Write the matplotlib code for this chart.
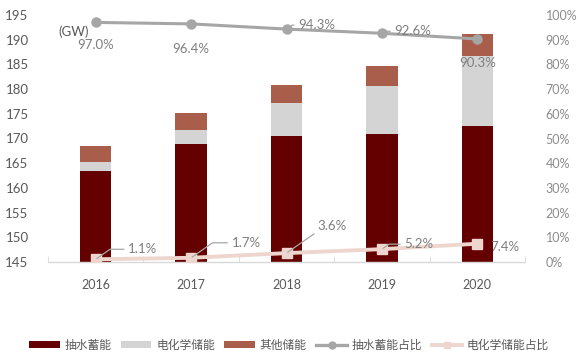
import matplotlib
matplotlib.use("Agg")
import matplotlib.pyplot as plt
import numpy as np
from matplotlib.patches import Patch
from matplotlib.lines import Line2D

plt.rcParams['font.family'] = ['Lato', 'Noto Sans CJK SC', 'DejaVu Sans']

years = ['2016', '2017', '2018', '2019', '2020']
pumped = [163.4, 168.8, 170.6, 171.0, 172.5]
electro = [1.8, 3.0, 6.5, 9.6, 14.2]
other = [3.3, 3.3, 3.8, 4.0, 4.4]
pumped_pct = [97.0, 96.4, 94.3, 92.6, 90.3]
electro_pct = [1.1, 1.7, 3.6, 5.2, 7.4]
series_names = ['抽水蓄能', '电化学储能', '其他储能', '抽水蓄能占比', '电化学储能占比']

c_pumped = '#640000'
c_electro = '#D4D4D4'
c_other = '#A95E4C'
c_pline = '#A6A6A6'
c_eline = '#EED6CF'
tick_col = '#595959'
lab_col = '#7F7F7F'

fig = plt.figure(figsize=(5.78, 3.58), dpi=100)
ax = fig.add_axes([48/578, 1-262/358, (525-48)/578, (262-15)/358])
x = np.arange(len(years))
w = 0.33
b1 = np.array(pumped)
b2 = b1 + np.array(electro)
ax.bar(x, pumped, w, color=c_pumped, zorder=2)
ax.bar(x, electro, w, bottom=b1, color=c_electro, zorder=2)
ax.bar(x, other, w, bottom=b2, color=c_other, zorder=2)
ax.set_ylim(145, 195)
ax.set_xlim(-0.5, 4.5)
ax.set_yticks(np.arange(145, 196, 5))
ax.set_xticks(x)
ax.set_xticklabels(years)
ax.set_xticks(np.arange(-0.5, 4.6, 1), minor=True)
ax.tick_params(axis='x', which='major', length=0, pad=12, labelsize=9, colors=tick_col)
ax.tick_params(axis='x', which='minor', length=4, direction='in', color='#D9D9D9')
ax.tick_params(axis='y', length=0, pad=14, labelsize=9.5, colors=tick_col)
for s in ['top', 'right', 'left']:
    ax.spines[s].set_visible(False)
ax.spines['bottom'].set_color('#D9D9D9')
ax.spines['bottom'].set_linewidth(1)

ax.text(-0.23, 191.6, '(GW)', ha='center', va='center', fontsize=9.5, color=tick_col)

ax2 = ax.twinx()
ax2.set_ylim(0, 1)
ax2.set_yticks(np.arange(0, 1.01, 0.1))
ax2.set_yticklabels([f'{int(round(v*100))}%' for v in np.arange(0, 1.01, 0.1)])
ax2.tick_params(axis='y', length=0, pad=15, labelsize=9, colors='#8C8C8C')
for s in ['top', 'right', 'left', 'bottom']:
    ax2.spines[s].set_visible(False)

pp = np.array(pumped_pct) / 100
ep = np.array(electro_pct) / 100
ax2.plot(x, pp, color=c_pline, lw=2.2, marker='o', ms=6.5, zorder=3)
ax2.plot(x, ep, color=c_eline, lw=2.8, marker='s', ms=6.5, zorder=3)

# labels for pumped share
p_off = [(0, -23, False), (0, -25, False), (30, 4, True), (31, 2, True), (0, -24, False)]
for i, (dx, dy, lead) in enumerate(p_off):
    if lead:
        ax2.annotate(f'{pumped_pct[i]:.1f}%', (x[i], pp[i]), xytext=(dx, dy),
                     textcoords='offset pixels', ha='center', va='center',
                     fontsize=9.5, color=lab_col,
                     arrowprops=dict(arrowstyle='-', color=c_pline, lw=0.9,
                                     shrinkA=1, shrinkB=1, relpos=(0, 0.5),
                                     connectionstyle='angle,angleA=0,angleB=35,rad=0'))
    else:
        ax2.annotate(f'{pumped_pct[i]:.1f}%', (x[i], pp[i]), xytext=(dx, dy),
                     textcoords='offset pixels', ha='center', va='center',
                     fontsize=9.5, color=lab_col)

e_off = [(47, 10, True), (55, 15, True), (46, 27, True), (37, 5, True), (28, -3, False)]
for i, (dx, dy, lead) in enumerate(e_off):
    if lead:
        ax2.annotate(f'{electro_pct[i]:.1f}%', (x[i], ep[i]), xytext=(dx, dy),
                     textcoords='offset pixels', ha='center', va='center',
                     fontsize=9.5, color=lab_col,
                     arrowprops=dict(arrowstyle='-', color='#A6A6A6', lw=0.9,
                                     shrinkA=1, shrinkB=1, relpos=(0, 0.5),
                                     connectionstyle='angle,angleA=0,angleB=35,rad=0'))
    else:
        ax2.annotate(f'{electro_pct[i]:.1f}%', (x[i], ep[i]), xytext=(dx, dy),
                     textcoords='offset pixels', ha='center', va='center',
                     fontsize=9.5, color=lab_col)

handles = [
    Patch(facecolor=c_pumped),
    Patch(facecolor=c_electro),
    Patch(facecolor=c_other),
    Line2D([], [], color=c_pline, lw=2.4, marker='o', ms=5),
    Line2D([], [], color=c_eline, lw=2.8, marker='s', ms=5),
]
fig.legend(handles, series_names, loc='center', bbox_to_anchor=(0.5, 1-345/358),
           ncol=5, frameon=False, fontsize=8.5, handlelength=2.6, handleheight=0.6,
           handletextpad=0.4, columnspacing=0.8, labelcolor=tick_col)

fig.savefig('out.png', dpi=100)
